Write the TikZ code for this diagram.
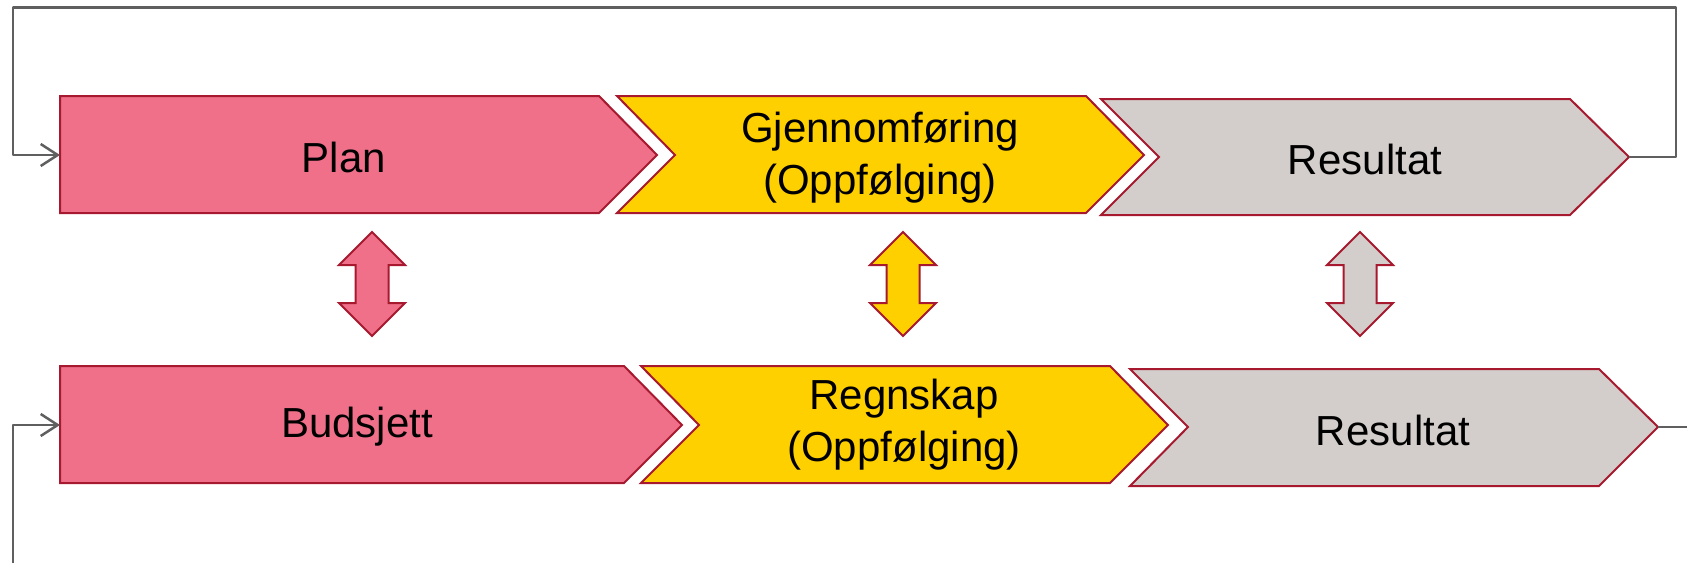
\documentclass[tikz,border=0pt]{standalone}
\usepackage{fontspec}
\setmainfont{Liberation Sans}
\usetikzlibrary{arrows.meta}
\definecolor{planpink}{RGB}{240,112,138}
\definecolor{gjenyellow}{RGB}{255,208,0}
\definecolor{resgrey}{RGB}{211,206,203}
\definecolor{bordo}{RGB}{166,25,46}
\definecolor{loopgrey}{RGB}{95,95,95}
\tikzset{
  chev/.style={draw=bordo, line width=2pt, line join=miter},
  fb/.style={draw=loopgrey, line width=2.5pt, -{Straight Barb[length=17pt,width=22pt]}},
  fbline/.style={draw=loopgrey, line width=2.5pt},
  lbl/.style={font=\fontsize{42}{52}\selectfont, align=center, text=black, inner sep=0pt}
}
\begin{document}
\begin{tikzpicture}[x=1pt,y=-1pt, line join=round]
\useasboundingbox (0,0) rectangle (1687,563);
% upper row
\draw[chev, fill=planpink] (60,96) -- (599,96) -- (657,155) -- (599,213) -- (60,213) -- cycle;
\draw[chev, fill=gjenyellow] (617,96) -- (1086,96) -- (1144,155) -- (1086,213) -- (617,213) -- (675,155) -- cycle;
\draw[chev, fill=resgrey] (1101,99) -- (1570,99) -- (1629,157) -- (1570,215) -- (1101,215) -- (1159,157) -- cycle;
\node[lbl] (plan) at (344,157) {Plan};
\node[lbl] (gjen) at (880,158) {Gjennomføring\\(Oppfølging)};
\node[lbl] (res1) at (1365,159) {Resultat};
% lower row
\draw[chev, fill=planpink] (60,366) -- (624,366) -- (682,425) -- (624,483) -- (60,483) -- cycle;
\draw[chev, fill=gjenyellow] (641,366) -- (1110,366) -- (1168,425) -- (1110,483) -- (641,483) -- (699,425) -- cycle;
\draw[chev, fill=resgrey] (1130,369) -- (1599,369) -- (1658,427) -- (1599,486) -- (1130,486) -- (1188,427) -- cycle;
\node[lbl] (bud) at (357,427) {Budsjett};
\node[lbl] (regn) at (904,425) {Regnskap\\(Oppfølging)};
\node[lbl] (res2) at (1393,430) {Resultat};
% double arrows between the rows
\foreach \cx/\col in {372/planpink, 903/gjenyellow, 1360/resgrey}
  \draw[chev, fill=\col] (\cx,232) -- (\cx+33,265) -- (\cx+16.5,265) -- (\cx+16.5,303)
    -- (\cx+33,303) -- (\cx,336) -- (\cx-33,303) -- (\cx-16.5,303) -- (\cx-16.5,265)
    -- (\cx-33,265) -- cycle;
% feedback lines
\coordinate (plan-in) at (60,155);
\coordinate (bud-in) at (60,425);
\coordinate (res1-out) at (1629,157);
\coordinate (res2-out) at (1658,427);
\coordinate (loopR) at (1676,7.5);
\coordinate (loopL) at (13,7.5);
\coordinate (loopB) at (13,563);
\coordinate (outB) at (1687,427);
\draw[fb] (res1-out) -| (loopR) -- (loopL) |- (plan-in);
\draw[fb] (loopB) |- (bud-in);
\draw[fbline] (res2-out) -- (outB);
\end{tikzpicture}
\end{document}
